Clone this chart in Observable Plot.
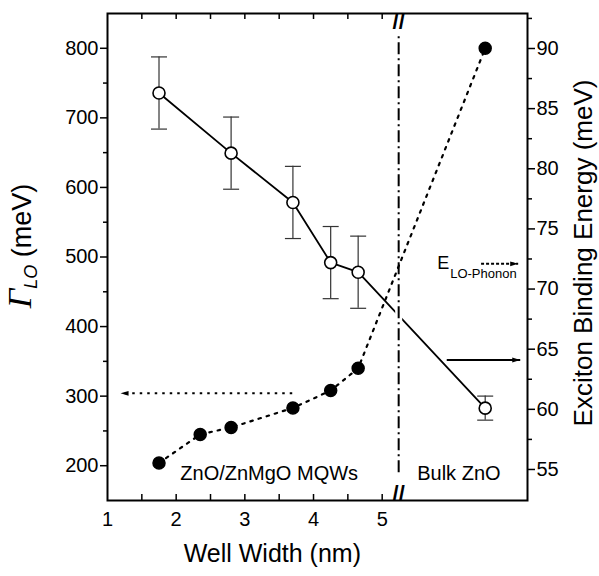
<!DOCTYPE html>
<html><head><meta charset="utf-8">
<script src="https://cdn.jsdelivr.net/npm/d3@7"></script>
<script src="https://cdn.jsdelivr.net/npm/@observablehq/plot@0.6"></script>
<style>body{margin:0;background:#fff}</style>
</head><body><div id="chart"></div>
<script>
// ---- data ----
const bindingWidth = [1.75, 2.80, 3.70, 4.25, 4.65, 6.50];   // open circles (nm; last = bulk)
const bindingEnergy = [86.3, 81.3, 77.2, 72.2, 71.4, 60.1];  // meV (right axis)
const bindingErr = [3.0, 3.0, 3.0, 3.0, 3.0, 1.0];
const gammaWidth = [1.75, 2.35, 2.80, 3.70, 4.25, 4.65, 6.50]; // filled circles
const gammaLO = [204, 245, 255, 283, 308, 340, 800];            // meV (left axis)
const xTickLabels = [1, 2, 3, 4, 5];
const xMinorTicks = [1.5, 2, 2.5, 3, 3.5, 4, 4.5, 5];
const leftTicks = [200, 300, 400, 500, 600, 700, 800];
const leftMinor = [250, 350, 450, 550, 650, 750];
const rightTicks = [55, 60, 65, 70, 75, 80, 85, 90];
const rightMinor = [57.5, 62.5, 67.5, 72.5, 77.5, 82.5, 87.5, 92.5];
// annotations
const breakX = 5.24;
const divider = {x: 5.24, y1: 190, y2: 821};
const regionLabels = [{text: "ZnO/ZnMgO MQWs", x: 2.06, y: 188}, {text: "Bulk ZnO", x: 5.51, y: 188}];
const gammaArrow = [{x1: 3.69, x2: 1.19, y: 304}];     // left-axis units
const bindingArrow = [{x1: 5.94, x2: 7.01, y: 64.1}];  // right-axis units
const phononArrow = [{x1: 6.44, x2: 6.98, y: 72.1}];   // right-axis units
const phononLabel = {x: 5.80, y: 72.15, subX: 5.99, subY: 71.3};

// ---- scales ----
const xDomain = [1, 7.116];
const yL = [150, 850];
const yR = [52.42, 92.91];
const toL = r => yL[0] + (r - yR[0]) * (yL[1] - yL[0]) / (yR[1] - yR[0]);
const fromL = l => yR[0] + (l - yL[0]) * (yR[1] - yR[0]) / (yL[1] - yL[0]);
const W = 599, H = 576, mL = 107, mR = 72, mT = 13, mB = 76;
const pxPerY = (H - mT - mB) / (yL[1] - yL[0]);
const pxPerX = (W - mL - mR) / (xDomain[1] - xDomain[0]);

const openPts = bindingWidth.map((x, i) => ({x, y: toL(bindingEnergy[i]), lo: toL(bindingEnergy[i] - bindingErr[i]), hi: toL(bindingEnergy[i] + bindingErr[i])}));
const filledPts = gammaWidth.map((x, i) => ({x, y: gammaLO[i]}));

// where the solid line crosses the divider (small white gap as in the figure)
const a = openPts[4], b = openPts[5];
const crossY = a.y + (b.y - a.y) * (breakX - a.x) / (b.x - a.x);
const gap = [{x: breakX, y1: crossY - 12 / pxPerY, y2: crossY + 12 / pxPerY}];

const headR = {draw(ctx, size) {const r = Math.sqrt(size / Math.PI); ctx.moveTo(0, 0); ctx.lineTo(-2 * r, -0.6 * r); ctx.lineTo(-2 * r, 0.6 * r); ctx.closePath();}};
const headLft = {draw(ctx, size) {const r = Math.sqrt(size / Math.PI); ctx.moveTo(0, 0); ctx.lineTo(2 * r, -0.6 * r); ctx.lineTo(2 * r, 0.6 * r); ctx.closePath();}};
const capHalf = 8 / pxPerX;
const tickIn = 6 / pxPerY;

const plot = Plot.plot({
  width: W, height: H,
  marginLeft: mL, marginRight: mR, marginTop: mT, marginBottom: mB,
  style: {fontFamily: "'Liberation Sans', Arial, sans-serif", fontSize: "20px", color: "black", background: "white"},
  x: {domain: xDomain},
  y: {domain: yL},
  marks: [
    // axes
    Plot.axisY({ticks: leftTicks, tickSize: 7, tickPadding: 2, fontSize: 20, strokeWidth: 1.5, label: null}),
    Plot.axisY({ticks: leftMinor, tickSize: 4, tickFormat: () => "", strokeWidth: 1.5, label: null}),
    Plot.axisY({anchor: "right", ticks: rightTicks.map(toL), tickFormat: d => String(Math.round(fromL(d))), tickSize: 7, tickPadding: 2, fontSize: 20, strokeWidth: 1.5, label: null}),
    Plot.axisY({anchor: "right", ticks: rightMinor.map(toL), tickSize: 4, tickFormat: () => "", strokeWidth: 1.5, label: null}),
    Plot.axisX({ticks: xTickLabels, tickFormat: d => String(d), tickSize: 0, tickPadding: 11, fontSize: 20, label: null}),
    Plot.ruleX(xMinorTicks, {x: d => d, y1: yL[0], y2: yL[0] + tickIn, strokeWidth: 1.5}),
    Plot.ruleX(xMinorTicks, {x: d => d, y1: yL[1], y2: yL[1] - tickIn, strokeWidth: 1.5}),
    // error bars
    Plot.ruleX(openPts, {x: "x", y1: "lo", y2: "hi", stroke: "#333", strokeWidth: 1.2}),
    Plot.link(openPts, {x1: d => d.x - capHalf, x2: d => d.x + capHalf, y1: "hi", y2: "hi", stroke: "#333", strokeWidth: 1.2}),
    Plot.link(openPts, {x1: d => d.x - capHalf, x2: d => d.x + capHalf, y1: "lo", y2: "lo", stroke: "#333", strokeWidth: 1.2}),
    // lines
    Plot.line(openPts, {x: "x", y: "y", stroke: "black", strokeWidth: 1.8}),
    Plot.line(filledPts, {x: "x", y: "y", stroke: "black", strokeWidth: 2.2, strokeDasharray: "2.5,6"}),
    // divider with gap
    Plot.ruleX(gap, {x: "x", y1: "y1", y2: "y2", stroke: "white", strokeWidth: 7}),
    Plot.ruleX([divider], {x: "x", y1: "y1", y2: "y2", strokeWidth: 2, strokeDasharray: "12,4,2,4"}),
    // points
    Plot.dot(openPts, {x: "x", y: "y", r: 6, fill: "white", stroke: "black", strokeWidth: 1.6}),
    Plot.dot(filledPts, {x: "x", y: "y", r: 6, fill: "black", stroke: "black"}),
    // arrows
    Plot.link(gammaArrow, {x1: "x1", x2: "x2", y1: "y", y2: "y", strokeWidth: 2, strokeDasharray: "2.5,5"}),
    Plot.dot(gammaArrow, {x: "x2", y: "y", symbol: headLft, r: 4, fill: "black", stroke: "none"}),
    Plot.link(bindingArrow, {x1: "x1", x2: "x2", y1: d => toL(d.y), y2: d => toL(d.y), strokeWidth: 1.8}),
    Plot.dot(bindingArrow, {x: "x2", y: d => toL(d.y), symbol: headR, r: 4, fill: "black", stroke: "none"}),
    Plot.link(phononArrow, {x1: "x1", x2: "x2", y1: d => toL(d.y), y2: d => toL(d.y), strokeWidth: 2, strokeDasharray: "3,2"}),
    Plot.dot(phononArrow, {x: "x2", y: d => toL(d.y), symbol: headR, r: 4, fill: "black", stroke: "none"}),
    // texts
    Plot.text(regionLabels, {x: "x", y: "y", text: "text", textAnchor: "start", fontSize: 20}),
    Plot.text([phononLabel], {x: "x", y: d => toL(d.y), text: () => "E", textAnchor: "start", fontSize: 18}),
    Plot.text([phononLabel], {x: "subX", y: d => toL(d.subY), text: () => "LO-Phonon", textAnchor: "start", fontSize: 13}),
    Plot.text([breakX], {x: d => d, frameAnchor: "top", text: () => "//", fontSize: 22, fontWeight: "bold"}),
    Plot.text([breakX], {x: d => d, frameAnchor: "bottom", text: () => "//", fontSize: 22, fontWeight: "bold"}),
    Plot.text(["Exciton Binding Energy (meV)"], {text: d => d, frameAnchor: "right", textAnchor: "middle", dx: 56, dy: -4, rotate: -90, fontSize: 26}),
    Plot.text(["Well Width (nm)"], {text: d => d, x: () => 3.40, frameAnchor: "bottom", textAnchor: "middle", dy: 61, fontSize: 25}),
    Plot.frame({stroke: "black", strokeWidth: 2})
  ]
});

// left axis label with Greek letter and subscript
const svg = d3.select(plot);
const lab = svg.append("text")
  .attr("transform", "translate(31,246) rotate(-90)")
  .attr("text-anchor", "middle")
  .attr("fill", "black");
lab.append("tspan").text("Γ").attr("font-family", "'Liberation Serif', 'DejaVu Serif', serif").attr("font-style", "italic").attr("font-size", 34);
lab.append("tspan").text("LO").attr("font-family", "'Liberation Sans', Arial, sans-serif").attr("font-style", "italic").attr("font-size", 18).attr("dy", 6);
lab.append("tspan").text(" (meV)").attr("font-family", "'Liberation Sans', Arial, sans-serif").attr("font-size", 27).attr("dy", -6);

document.getElementById("chart").appendChild(plot);
</script>
</body></html>
